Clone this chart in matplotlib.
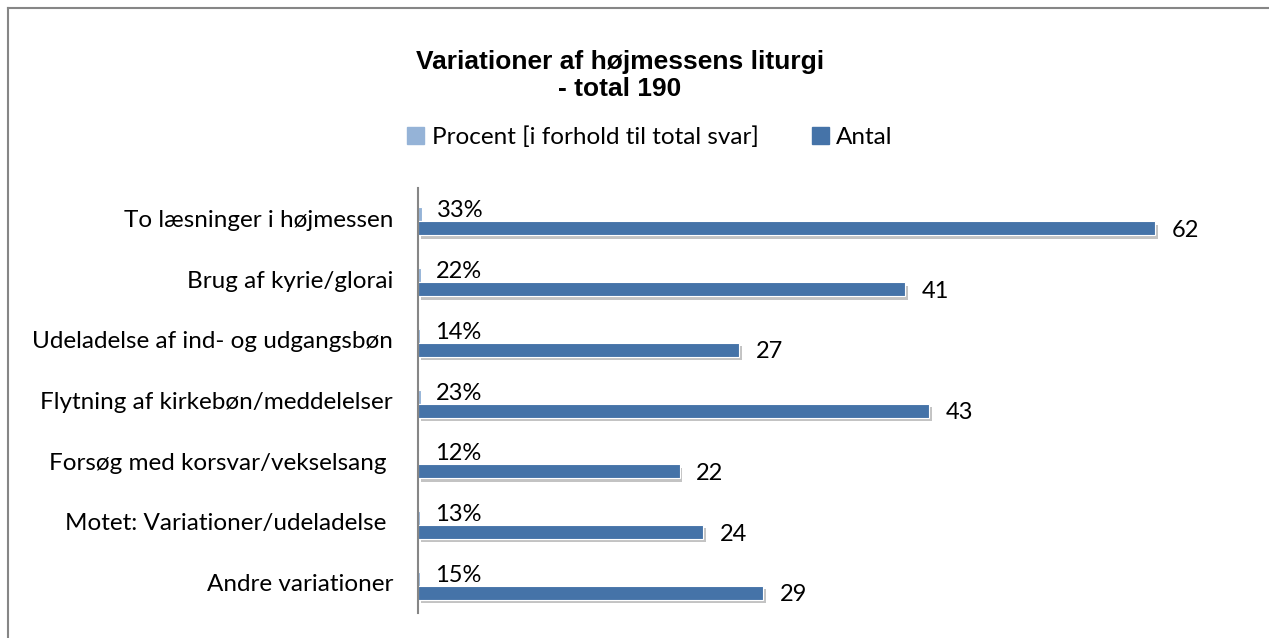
import numpy as np
import matplotlib.pyplot as plt
from matplotlib.lines import Line2D
from matplotlib.patches import Patch
import matplotlib.patheffects as pe

# data
categories = [
    "To læsninger i højmessen",
    "Brug af kyrie/glorai",
    "Udeladelse af ind- og udgangsbøn",
    "Flytning af kirkebøn/meddelelser",
    "Forsøg med korsvar/vekselsang ",
    "Motet: Variationer/udeladelse ",
    "Andre variationer",
]
procent = [0.33, 0.22, 0.14, 0.23, 0.12, 0.13, 0.15]
antal = [62, 41, 27, 43, 22, 24, 29]
procent_labels = ["33%", "22%", "14%", "23%", "12%", "13%", "15%"]

c_pct = "#95B3D7"
c_ant = "#4573A8"
lab_font = "Lato"
fs = 17.5

W, H = 1269, 638
fig = plt.figure(figsize=(W / 100, H / 100), dpi=100)
ax = fig.add_axes([418 / W, 1 - 613 / H, (1240 - 418) / W, (613 - 188) / H])

y = np.arange(len(categories))
h = 0.23
shift = 0.05

ax.barh(y - h / 2 + shift, procent, height=h, color=c_pct, edgecolor="white", linewidth=0.8)
bars = ax.barh(y + h / 2 + shift, antal, height=h, color=c_ant, edgecolor="white", linewidth=0.8)
for b in bars:
    b.set_path_effects([pe.SimplePatchShadow(offset=(2, -2.5), shadow_rgbFace="#888888", alpha=0.5),
                        pe.Normal()])

for i in range(len(categories)):
    ax.annotate(procent_labels[i], (procent[i], y[i] - h / 2 + shift), xytext=(11, 2.5),
                textcoords="offset points", ha="left", va="center",
                fontsize=17, family=lab_font)
    ax.annotate(str(antal[i]), (antal[i], y[i] + h / 2 + shift), xytext=(12, -1.5),
                textcoords="offset points", ha="left", va="center",
                fontsize=17, family=lab_font)

ax.set_xlim(0, (1240 - 418) / ((1155 - 418) / 62))
ax.set_ylim(len(categories) - 0.5, -0.5)
ax.set_yticks(y)
ax.set_yticklabels(categories, fontsize=fs, family=lab_font)
ax.tick_params(axis="y", length=0, pad=18)
ax.set_xticks([])
for s in ["top", "right", "bottom"]:
    ax.spines[s].set_visible(False)
ax.spines["left"].set_color("#868686")
ax.spines["left"].set_linewidth(1.5)

fig.text(620 / W, 1 - 62 / H, "Variationer af højmessens liturgi", ha="center", va="center",
         fontsize=19, fontweight="bold", family="Liberation Sans")
fig.text(620 / W, 1 - 89 / H, "- total 190", ha="center", va="center",
         fontsize=19, fontweight="bold", family="Liberation Sans")

handles = [Patch(color=c_pct, label="Procent [i forhold til total svar]"),
           Patch(color=c_ant, label="Antal")]
fig.legend(handles=handles, loc="center", bbox_to_anchor=(650 / W, 1 - 137 / H), ncol=2,
           frameon=False, prop={"family": lab_font, "size": fs}, handlelength=0.7,
           handleheight=0.7, handletextpad=0.3, columnspacing=2.2)

# chart frame (top and left edges visible)
fig.add_artist(Line2D([8 / W, 8 / W], [0, 1 - 8 / H], color="#868686", lw=1.5))
fig.add_artist(Line2D([8 / W, 1], [1 - 8 / H, 1 - 8 / H], color="#868686", lw=1.5))

fig.savefig("out.png", dpi=100)
